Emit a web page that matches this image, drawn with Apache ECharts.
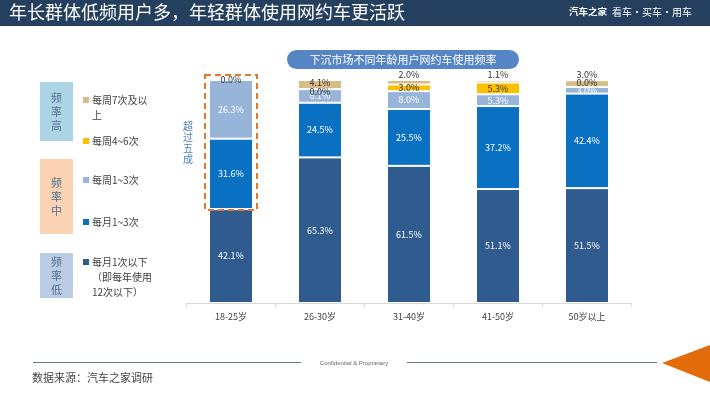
<!DOCTYPE html>
<html>
<head>
<meta charset="utf-8">
<script src="https://cdn.jsdelivr.net/npm/echarts@6/dist/echarts.min.js"></script>
<style>
  html, body { margin: 0; padding: 0; background: #fff; }
  #main { width: 710px; height: 399px; }
</style>
</head>
<body>
<div id="main"></div>
<script>
// categories (age groups)
var ages = ['18-25岁', '26-30岁', '31-40岁', '41-50岁', '50岁以上'];
// series names, bottom to top
var names = ['每月1次以下', '每月1~3次', '每周1~3次', '每周4~6次', '每周7次及以上'];
// values, % of users
var lowMonthly = [42.1, 65.3, 61.5, 51.1, 51.5];
var monthly13 = [31.6, 24.5, 25.5, 37.2, 42.4];
var weekly13 = [26.3, 6.1, 8.0, 5.3, 3.0];
var weekly46 = [0.0, 0.0, 3.0, 5.3, 0.0];
var weekly7 = [0.0, 4.1, 2.0, 1.1, 3.0];

var colors = ['#2F5B8E', '#0A70C2', '#97B4D9', '#FFC000', '#D6BD85'];
var font = '"Noto Sans CJK SC", "Microsoft YaHei", sans-serif';

var myChart = echarts.init(document.getElementById('main'));

function fmt(p) { return p.value.toFixed(1) + '%'; }

function makeSeries(idx, values, labelColor) {
	var data = [];
	for (var i = 0; i < values.length; i++) {
		var item = { value: values[i] };
		// top segment: small ones get label above the bar
		if (idx == 4) {
			if (i == 0) item.label = { show: false };
			else if (i == 1) item.label = { offset: [0, -2] };
			else item.label = { position: 'top', distance: 1 };
		}
		if (idx == 3 && i == 1) item.label = { offset: [0, 2] };
		if (idx == 3 && i == 4) item.label = { offset: [0, -4] };
		data.push(item);
	}
	return {
		name: names[idx],
		type: 'bar',
		stack: 'all',
		barWidth: 44,
		data: data,
		itemStyle: { color: colors[idx], borderColor: '#fff', borderWidth: 1 },
		label: {
			show: true,
			position: 'inside',
			color: labelColor,
			fontSize: 9,
			fontFamily: font,
			formatter: fmt
		}
	};
}

var legendItems = [
	{ name: names[4], y: 100, lines: ['每周7次及以', '上'] },
	{ name: names[3], y: 141, lines: ['每周4~6次'] },
	{ name: names[2], y: 180, lines: ['每周1~3次'] },
	{ name: names[1], y: 222, lines: ['每月1~3次'] },
	{ name: names[0], y: 262, lines: ['每月1次以下', '（即每年使用', '12次以下）'] }
];
var legendColor = { };
legendColor[names[0]] = colors[0];
legendColor[names[1]] = colors[1];
legendColor[names[2]] = colors[2];
legendColor[names[3]] = colors[3];
legendColor[names[4]] = colors[4];

var graphics = [
	// header bar
	{ type: 'rect', left: 0, top: 0, shape: { width: 710, height: 26 }, style: { fill: '#253F5F' } },
	{ type: 'text', left: 9, top: 3, style: { text: '年长群体低频用户多，年轻群体使用网约车更活跃', fill: '#fff', font: '18px ' + font } },
	{ type: 'text', left: 569, top: 7, style: { text: '汽车之家', fill: '#fff', font: 'bold 9.5px ' + font } },
	{ type: 'text', left: 612, top: 7, style: { text: '看车·买车·用车', fill: '#fff', font: '10px ' + font } },
	// chart caption pill
	{ type: 'rect', left: 287, top: 50, shape: { width: 232, height: 19, r: 9.5 }, style: { fill: '#5585C4' } },
	{ type: 'text', x: 403, y: 60, style: { text: '下沉市场不同年龄用户网约车使用频率', fill: '#fff', font: '11px ' + font, textAlign: 'center', textVerticalAlign: 'middle' } },
	// frequency boxes
	{ type: 'rect', left: 40, top: 82, shape: { width: 33, height: 59 }, style: { fill: '#ABD5E5' } },
	{ type: 'text', x: 56.5, y: 111.5, style: { text: '频\n率\n高', fill: '#55708F', font: '11px ' + font, textAlign: 'center', textVerticalAlign: 'middle', lineHeight: 14 } },
	{ type: 'rect', left: 40, top: 159, shape: { width: 33, height: 75 }, style: { fill: '#FAD3B5' } },
	{ type: 'text', x: 56.5, y: 196.5, style: { text: '频\n率\n中', fill: '#55708F', font: '11px ' + font, textAlign: 'center', textVerticalAlign: 'middle', lineHeight: 14 } },
	{ type: 'rect', left: 40, top: 253, shape: { width: 33, height: 45 }, style: { fill: '#B9CCE4' } },
	{ type: 'text', x: 56.5, y: 275.5, style: { text: '频\n率\n低', fill: '#55708F', font: '11px ' + font, textAlign: 'center', textVerticalAlign: 'middle', lineHeight: 14 } },
	// annotation
	{ type: 'text', x: 188, y: 143, style: { text: '超\n过\n五\n成', fill: '#4F81BD', font: '10px ' + font, textAlign: 'center', textVerticalAlign: 'middle', lineHeight: 11 } },
	{ type: 'rect', shape: { x: 205, y: 75, width: 52, height: 135 }, style: { fill: 'none', stroke: '#E8772E', lineWidth: 2, lineDash: [6, 4] }, z: 10 },
	// footer
	{ type: 'line', shape: { x1: 33, y1: 362.5, x2: 301, y2: 362.5 }, style: { stroke: '#66788A', lineWidth: 1 } },
	{ type: 'line', shape: { x1: 407, y1: 362.5, x2: 657, y2: 362.5 }, style: { stroke: '#66788A', lineWidth: 1 } },
	{ type: 'text', x: 354, y: 363, style: { text: 'Confidential & Proprietary', fill: '#666', font: '6px Liberation Sans, Arial', textAlign: 'center', textVerticalAlign: 'middle' } },
	{ type: 'text', left: 32, top: 372, style: { text: '数据来源：汽车之家调研', fill: '#444', font: '11px ' + font } },
	{ type: 'polygon', shape: { points: [[662, 363], [710, 345], [710, 382]] }, style: { fill: '#E36C0A' } }
];

for (var k = 0; k < legendItems.length; k++) {
	var it = legendItems[k];
	graphics.push({ type: 'rect', shape: { x: 83, y: it.y - 3, width: 6, height: 6 }, style: { fill: legendColor[it.name] } });
	for (var j = 0; j < it.lines.length; j++) {
		graphics.push({ type: 'text', x: 92, y: it.y + j * 15, style: { text: it.lines[j], fill: '#404040', font: '10px ' + font, textVerticalAlign: 'middle' } });
	}
}

option = {
	animation: false,
	backgroundColor: '#fff',
	grid: { left: 186.5, top: 80, width: 445, height: 223 },
	xAxis: [{
		type: 'category',
		data: ages,
		axisLine: { lineStyle: { color: '#D9D9D9' } },
		axisTick: { show: true, length: 4, lineStyle: { color: '#D9D9D9' } },
		axisLabel: { color: '#404040', fontSize: 9, fontFamily: font, margin: 9 }
	}],
	yAxis: [{ type: 'value', min: 0, max: 100, show: false }],
	series: [
		makeSeries(0, lowMonthly, '#fff'),
		makeSeries(1, monthly13, '#fff'),
		makeSeries(2, weekly13, '#fff'),
		makeSeries(3, weekly46, '#333'),
		makeSeries(4, weekly7, '#333')
	],
	graphic: graphics
};
myChart.setOption(option);
</script>
</body>
</html>
